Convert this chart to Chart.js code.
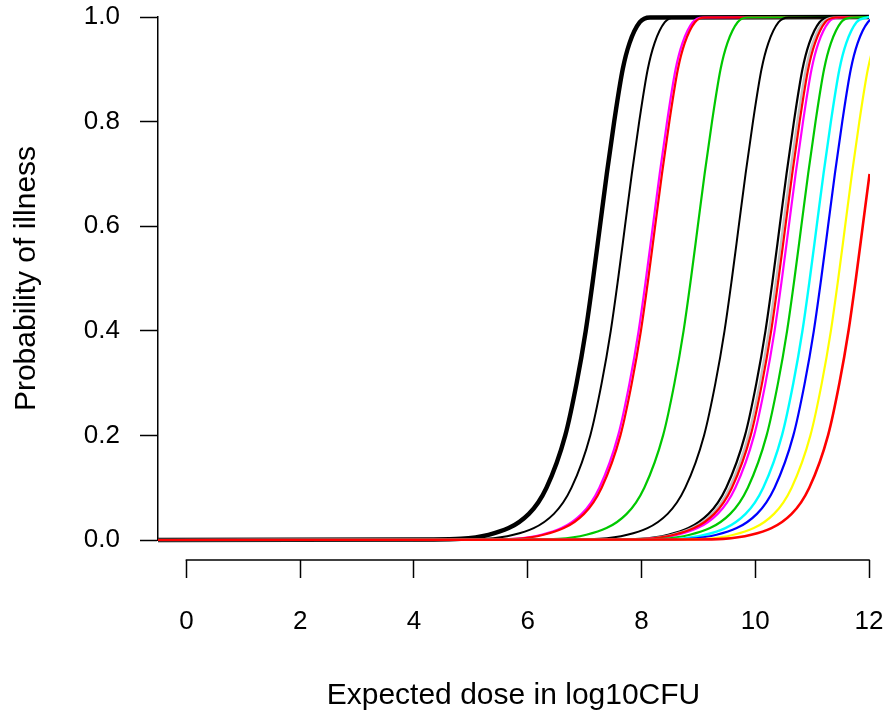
<!DOCTYPE html>
<html>
<head>
<meta charset="utf-8">
<script src="https://cdn.jsdelivr.net/npm/chart.js@4/dist/chart.umd.min.js"></script>
<style>
  html, body { margin: 0; padding: 0; background: #ffffff; }
  #c { display: block; }
</style>
</head>
<body>
<canvas id="c" width="888" height="715"></canvas>
<script>
// ---- data ----
// probability levels at which each curve's dose (log10 CFU) was read
const probLevels = [0, 0.001, 0.01, 0.05, 0.1, 0.2, 0.3, 0.4, 0.5, 0.6, 0.7, 0.8, 0.9, 0.95, 0.99, 0.999, 1];

const doseBlackThick = [-0.5, 4.31, 5.31, 6.02, 6.33, 6.66, 6.86, 7.02, 7.15, 7.27, 7.39, 7.52, 7.67, 7.79, 7.97, 8.15, 12];
const doseBlack2     = [-0.5, 4.75, 5.75, 6.46, 6.77, 7.10, 7.30, 7.46, 7.59, 7.71, 7.83, 7.96, 8.11, 8.23, 8.41, 8.59, 12];
const doseMagenta1   = [-0.5, 5.24, 6.24, 6.95, 7.26, 7.59, 7.79, 7.95, 8.08, 8.20, 8.32, 8.45, 8.60, 8.72, 8.90, 9.08, 12];
const doseRed1       = [-0.5, 5.28, 6.28, 6.99, 7.30, 7.63, 7.83, 7.99, 8.12, 8.24, 8.36, 8.49, 8.64, 8.76, 8.94, 9.12, 12];
const doseGreen1     = [-0.5, 6.03, 7.03, 7.74, 8.05, 8.38, 8.58, 8.74, 8.87, 8.99, 9.11, 9.24, 9.39, 9.51, 9.69, 9.87, 12];
const doseBlack3     = [-0.5, 6.75, 7.75, 8.46, 8.77, 9.10, 9.30, 9.46, 9.59, 9.71, 9.83, 9.96, 10.11, 10.23, 10.41, 10.59, 12];
const doseBlack4     = [-0.5, 7.47, 8.47, 9.18, 9.49, 9.82, 10.02, 10.18, 10.31, 10.43, 10.55, 10.68, 10.83, 10.95, 11.13, 11.31, 12];
const doseGrey       = [-0.5, 7.53, 8.53, 9.24, 9.55, 9.88, 10.08, 10.24, 10.37, 10.49, 10.61, 10.74, 10.89, 11.01, 11.19, 11.37, 12];
const doseRed2       = [-0.5, 7.57, 8.57, 9.28, 9.59, 9.92, 10.12, 10.28, 10.41, 10.53, 10.65, 10.78, 10.93, 11.05, 11.23, 11.41, 12];
const doseMagenta2   = [-0.5, 7.63, 8.63, 9.34, 9.65, 9.98, 10.18, 10.34, 10.47, 10.59, 10.71, 10.84, 10.99, 11.11, 11.29, 11.47, 12];
const doseGreen2     = [-0.5, 7.85, 8.85, 9.56, 9.87, 10.20, 10.40, 10.56, 10.69, 10.81, 10.93, 11.06, 11.21, 11.33, 11.51, 11.69, 12];
const doseCyan       = [-0.5, 8.12, 9.12, 9.83, 10.14, 10.47, 10.67, 10.83, 10.96, 11.08, 11.20, 11.33, 11.48, 11.60, 11.78, 11.96, 12];
const doseBlue       = [-0.5, 8.32, 9.32, 10.03, 10.34, 10.67, 10.87, 11.03, 11.16, 11.28, 11.40, 11.53, 11.68, 11.80, 11.98, 12.16, 12.4];
const doseYellow     = [-0.5, 8.62, 9.62, 10.33, 10.64, 10.97, 11.17, 11.33, 11.46, 11.58, 11.70, 11.83, 11.98, 12.10, 12.28, 12.46, 12.7];
const doseRed3       = [-0.5, 8.93, 9.93, 10.64, 10.95, 11.28, 11.48, 11.64, 11.77, 11.89, 12.01, 12.14, 12.29, 12.41, 12.59, 12.77, 13];

const xTickValues = [0, 2, 4, 6, 8, 10, 12];
const yTickValues = [0, 0.2, 0.4, 0.6, 0.8, 1.0];

const xTitle = 'Expected dose in log10CFU';
const yTitle = 'Probability of illness';

// ---- styling ----
const series = [
  { d: doseBlackThick, c: '#000000', w: 4.4 },
  { d: doseBlack2,     c: '#000000', w: 2 },
  { d: doseMagenta1,   c: '#FF00FF', w: 2.2 },
  { d: doseRed1,       c: '#FF0000', w: 2.2 },
  { d: doseGreen1,     c: '#00C800', w: 2.2 },
  { d: doseBlack3,     c: '#000000', w: 2 },
  { d: doseBlack4,     c: '#000000', w: 2.2 },
  { d: doseGrey,       c: '#BEBEBE', w: 2.2 },
  { d: doseMagenta2,   c: '#FF00FF', w: 2.2 },
  { d: doseRed2,       c: '#FF0000', w: 2.2 },
  { d: doseGreen2,     c: '#00C800', w: 2.2 },
  { d: doseCyan,       c: '#00FFFF', w: 2.4 },
  { d: doseBlue,       c: '#0000FF', w: 2.2 },
  { d: doseYellow,     c: '#FFFF00', w: 2.2 },
  { d: doseRed3,       c: '#FF0000', w: 2.6 }
];

const n = series.length;
const datasets = series.map((s, i) => ({
  data: s.d.map((x, k) => ({ x: x, y: probLevels[k] })),
  borderColor: s.c,
  borderWidth: s.w,
  pointRadius: 0,
  fill: false,
  cubicInterpolationMode: 'monotone',
  clip: { left: 0, right: 1, top: 3, bottom: 3 },
  order: n - i
}));

Chart.defaults.font.family = '"Liberation Sans", Arial, Helvetica, sans-serif';
Chart.defaults.color = '#000000';

const xAxisLine = {
  id: 'xAxisLine',
  afterDraw(chart) {
    const xs = chart.scales.x;
    const ctx = chart.ctx;
    const y = xs.top + 20;
    ctx.save();
    ctx.strokeStyle = '#000000';
    ctx.lineWidth = 1.5;
    ctx.beginPath();
    ctx.moveTo(xs.getPixelForValue(xTickValues[0]) - 0.75, y);
    ctx.lineTo(xs.getPixelForValue(xTickValues[xTickValues.length - 1]) + 0.75, y);
    ctx.stroke();
    ctx.restore();
  }
};

function zeroPad(s) {
  s.paddingTop = 0; s.paddingBottom = 0; s.paddingLeft = 0; s.paddingRight = 0;
}

new Chart(document.getElementById('c'), {
  type: 'line',
  data: { datasets },
  plugins: [xAxisLine],
  options: {
    responsive: false,
    animation: false,
    layout: { padding: { top: 17, right: 19, left: 0, bottom: 0 } },
    plugins: { legend: { display: false }, tooltip: { enabled: false } },
    scales: {
      x: {
        type: 'linear',
        position: 'bottom',
        min: -0.5,
        max: 12,
        afterBuildTicks: s => { s.ticks = xTickValues.map(v => ({ value: v })); },
        afterFit: s => { s.height = 175; zeroPad(s); },
        border: { display: false },
        grid: {
          drawOnChartArea: false,
          drawTicks: true,
          tickLength: 38,
          tickWidth: 1.5,
          tickColor: '#000000',
          tickBorderDash: [18, 20],
          tickBorderDashOffset: 18
        },
        ticks: {
          padding: 28,
          color: '#000000',
          font: { size: 26 },
          maxRotation: 0,
          autoSkip: false,
          callback: v => String(v)
        },
        title: {
          display: true,
          text: xTitle,
          color: '#000000',
          font: { size: 30 },
          padding: { top: 0, bottom: 1 }
        }
      },
      y: {
        type: 'linear',
        position: 'left',
        min: 0,
        max: 1,
        afterBuildTicks: s => { s.ticks = yTickValues.map(v => ({ value: v })); },
        afterFit: s => { s.width = 158; zeroPad(s); },
        border: { display: true, color: '#000000', width: 1.5 },
        grid: {
          drawOnChartArea: false,
          drawTicks: true,
          tickLength: 18,
          tickWidth: 1.5,
          tickColor: '#000000'
        },
        ticks: {
          padding: 20,
          color: '#000000',
          font: { size: 26 },
          callback: v => Number(v).toFixed(1)
        },
        title: {
          display: true,
          text: yTitle,
          color: '#000000',
          font: { size: 30 },
          padding: { top: 9, bottom: 0 }
        }
      }
    }
  }
});
</script>
</body>
</html>
